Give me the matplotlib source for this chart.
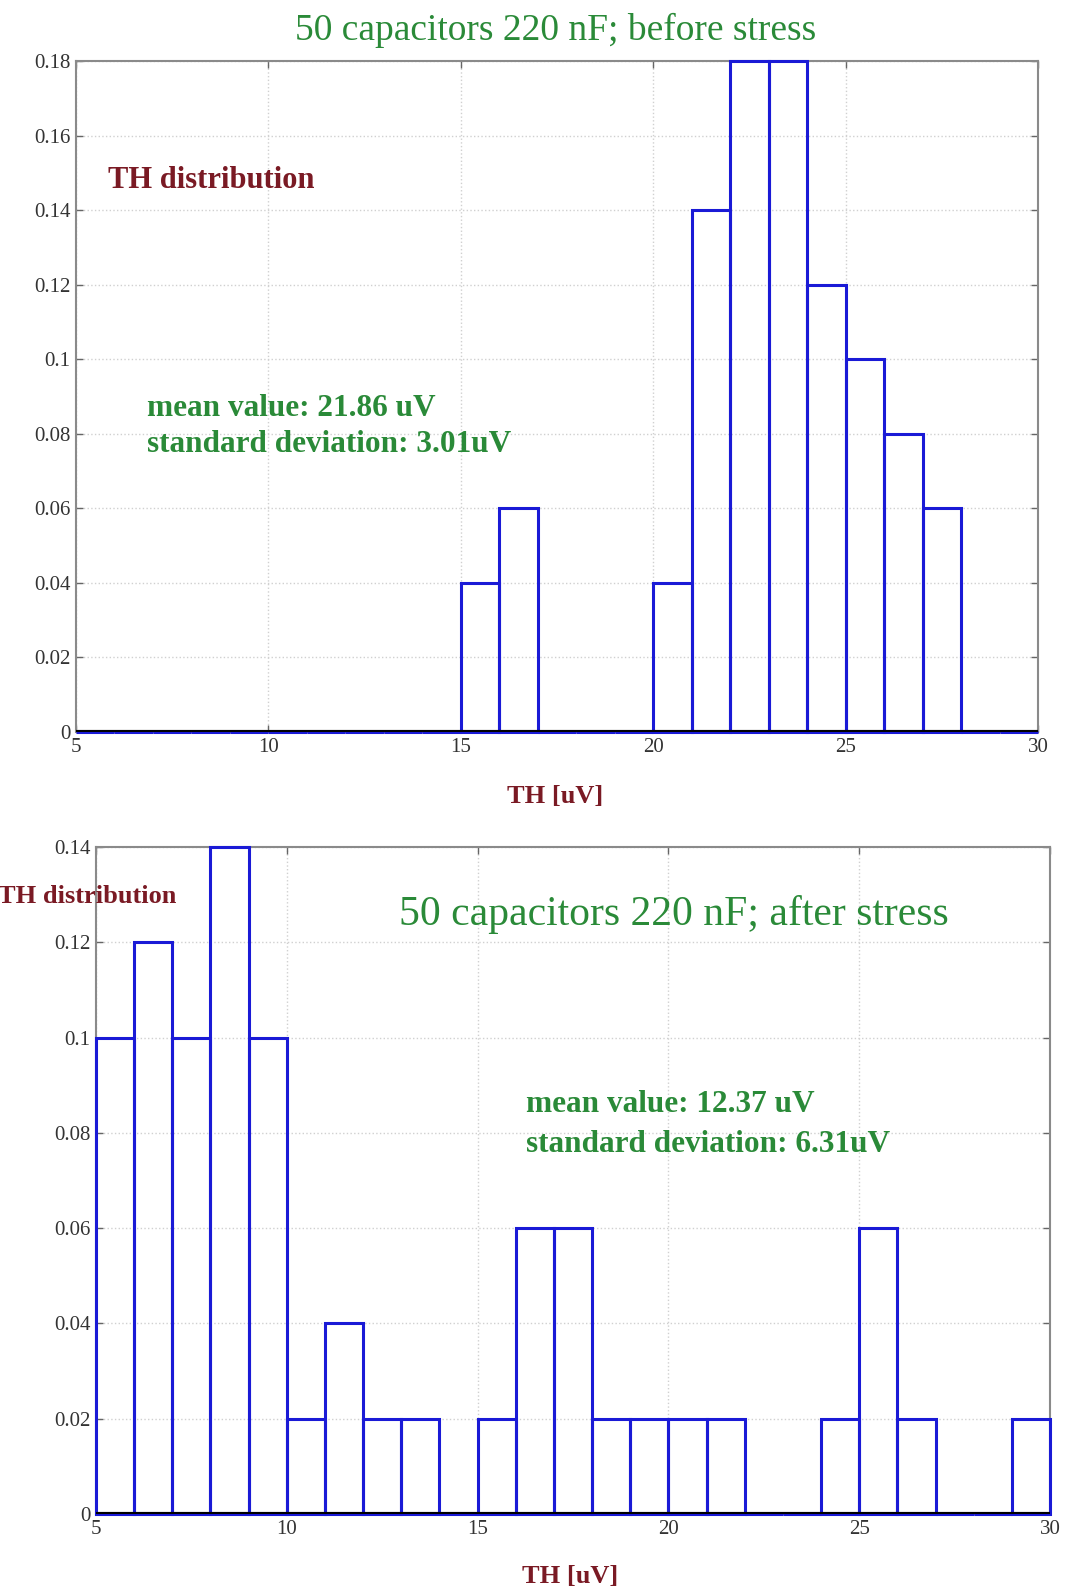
import numpy as np
import matplotlib
matplotlib.use("Agg")
import matplotlib.pyplot as plt

# ---- data ----
bin_edges = np.arange(5, 31, 1)
before_vals = [0, 0, 0, 0, 0, 0, 0, 0, 0, 0, 0.04, 0.06, 0, 0, 0,
               0.04, 0.14, 0.18, 0.18, 0.12, 0.10, 0.08, 0.06, 0, 0]
after_vals = [0.10, 0.12, 0.10, 0.14, 0.10, 0.02, 0.04, 0.02, 0.02, 0,
              0.02, 0.06, 0.06, 0.02, 0.02, 0.02, 0.02, 0, 0,
              0.02, 0.06, 0.02, 0, 0, 0.02]
x_ticks = [5, 10, 15, 20, 25, 30]
y_ticks_top = [0, 0.02, 0.04, 0.06, 0.08, 0.1, 0.12, 0.14, 0.16, 0.18]
y_ticks_bot = [0, 0.02, 0.04, 0.06, 0.08, 0.1, 0.12, 0.14]
ytick_labels_top = ["0", "0.02", "0.04", "0.06", "0.08", "0.1", "0.12", "0.14", "0.16", "0.18"]
ytick_labels_bot = ["0", "0.02", "0.04", "0.06", "0.08", "0.1", "0.12", "0.14"]

plt.rcParams['font.family'] = ['Liberation Serif', 'DejaVu Serif']

W, H = 1066, 1591
fig = plt.figure(figsize=(W / 100, H / 100), dpi=100)
fig.patch.set_facecolor('white')

BLUE = '#1a1ad6'
GREEN = '#2a8a38'
DRED = '#7a1a24'


def style_axes(ax, ymax, yticks, ylabels):
    ax.set_xlim(5, 30)
    ax.set_ylim(0, ymax)
    ax.set_xticks(x_ticks)
    ax.set_xticklabels([str(t) for t in x_ticks])
    ax.set_yticks(yticks)
    ax.set_yticklabels(ylabels)
    ax.tick_params(direction='in', length=5, width=1, colors='#666666',
                   labelcolor='#333333', labelsize=15, pad=4,
                   top=True, right=True)
    ax.grid(True, color='#d0d0d0', linestyle=':', linewidth=1.0)
    ax.set_axisbelow(True)
    for s in ['top', 'right', 'left']:
        ax.spines[s].set_color('#8a8a8a')
        ax.spines[s].set_linewidth(1.5)
    ax.spines['bottom'].set_color('#8a8a8a')


def draw_hist(ax, vals):
    ax.bar(bin_edges[:-1], vals, width=1, align='edge', fill=False,
           edgecolor=BLUE, linewidth=2.2, zorder=3, clip_on=False)
    ax.axhline(0, color='black', linewidth=3, zorder=4)


# top axes
ax1 = fig.add_axes([76 / W, 1 - 732 / H, 962 / W, 671 / H])
style_axes(ax1, 0.18, y_ticks_top, ytick_labels_top)
draw_hist(ax1, before_vals)

# bottom axes
ax2 = fig.add_axes([96 / W, 1 - 1514 / H, 954 / W, 667 / H])
style_axes(ax2, 0.14, y_ticks_bot, ytick_labels_bot)
draw_hist(ax2, after_vals)

# texts
fig.text(556 / W, 1 - 30 / H, '50 capacitors 220 nF; before stress',
         ha='center', va='center', color=GREEN, fontsize=27)
fig.text(108 / W, 1 - 181 / H, 'TH distribution', ha='left', va='center',
         color=DRED, fontsize=22, fontweight='bold')
fig.text(147 / W, 1 - 408 / H, 'mean value: 21.86 uV', ha='left', va='center',
         color=GREEN, fontsize=22.5, fontweight='bold')
fig.text(147 / W, 1 - 445 / H, 'standard deviation: 3.01uV', ha='left', va='center',
         color=GREEN, fontsize=22.5, fontweight='bold')
fig.text(555 / W, 1 - 797 / H, 'TH [uV]', ha='center', va='center',
         color=DRED, fontsize=19, fontweight='bold')

fig.text(-2 / W, 1 - 897 / H, 'TH distribution', ha='left', va='center',
         color=DRED, fontsize=19, fontweight='bold')
fig.text(399 / W, 1 - 915 / H, '50 capacitors 220 nF; after stress',
         ha='left', va='center', color=GREEN, fontsize=30)
fig.text(526 / W, 1 - 1105 / H, 'mean value: 12.37 uV', ha='left', va='center',
         color=GREEN, fontsize=22.5, fontweight='bold')
fig.text(526 / W, 1 - 1144 / H, 'standard deviation: 6.31uV', ha='left', va='center',
         color=GREEN, fontsize=22.5, fontweight='bold')
fig.text(570 / W, 1 - 1577 / H, 'TH [uV]', ha='center', va='center',
         color=DRED, fontsize=19, fontweight='bold')

fig.savefig('out.png', dpi=100, facecolor='white')
